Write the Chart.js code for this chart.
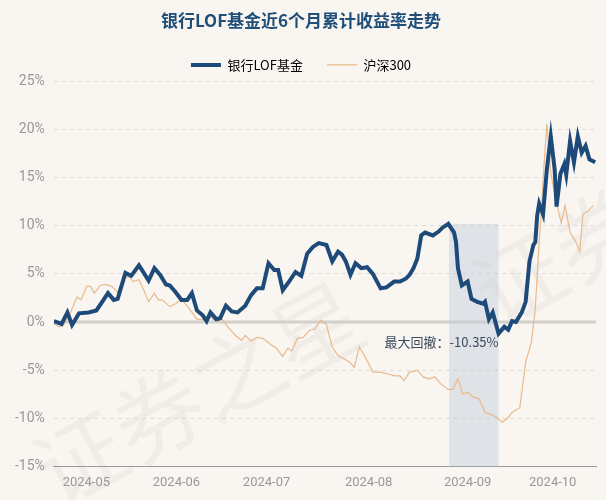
<!DOCTYPE html>
<html><head><meta charset="utf-8">
<script src="https://cdn.jsdelivr.net/npm/chart.js@4"></script>
<style>html,body{margin:0;padding:0;background:#f9f6f2}</style>
</head><body><canvas id="c" width="606" height="500"></canvas>
<script>
const title = '银行LOF基金近6个月累计收益率走势';
const seriesNames = ['银行LOF基金', '沪深300'];
const monthTickPos = [224, 457, 690, 954, 1210, 1430];
const monthLabels = ['2024-05', '2024-06', '2024-07', '2024-08', '2024-09', '2024-10'];
const yTicks = [25, 20, 15, 10, 5, 0, -5, -10, -15];
const fundX = [140,160,175,187,205,230,250,265,280,295,305,325,340,360,385,400,415,430,440,455,470,485,497,510,525,535,545,560,570,585,600,615,635,650,665,680,695,710,720,732,750,765,780,795,810,825,845,860,875,885,895,907,920,935,950,965,985,1000,1020,1035,1050,1060,1070,1080,1090,1100,1120,1135,1145,1160,1175,1180,1185,1195,1210,1220,1235,1250,1255,1265,1275,1290,1305,1315,1325,1335,1350,1360,1370,1380,1385,1390,1395,1405,1415,1425,1435,1440,1450,1460,1465,1475,1485,1495,1505,1515,1525,1540];
const fundY = [0.1,-0.2,1.0,-0.3,0.9,1.0,1.2,2.1,3.0,2.3,2.4,5.1,4.8,5.9,4.3,5.6,4.9,3.9,3.8,3.1,2.3,2.3,3.0,1.2,0.7,0.1,1.0,0.3,0.4,1.7,1.1,1.0,1.7,2.8,3.5,3.5,6.1,5.4,5.4,3.3,4.3,5.2,4.8,7.1,7.8,8.2,8.0,6.3,7.3,7.0,6.3,4.9,6.1,5.6,5.7,5.0,3.5,3.6,4.2,4.2,4.5,4.9,5.6,6.6,9.0,9.3,9.0,9.4,9.8,10.2,9.3,8.3,5.6,3.8,4.2,2.4,2.1,1.9,2.1,0.3,1.0,-1.2,-0.5,-0.8,0.1,0.0,1.0,2.1,6.3,8.0,8.3,11.1,12.3,11.2,15.9,19.3,15.9,12.0,15.4,16.4,15.3,18.8,16.6,19.3,17.6,18.3,16.9,16.6];
const hsX = [140,155,165,180,200,210,225,235,245,260,275,290,305,320,335,345,360,375,385,400,410,420,440,455,470,490,510,530,545,560,575,590,610,625,635,650,665,680,700,715,732,745,755,770,785,800,815,830,845,860,875,890,905,917,930,945,965,985,1005,1020,1035,1045,1060,1080,1095,1110,1125,1140,1160,1172,1185,1197,1210,1225,1240,1255,1270,1285,1300,1315,1325,1345,1360,1375,1385,1395,1400,1408,1415,1425,1440,1452,1462,1475,1490,1500,1508,1520,1535];
const hsY = [-0.2,-0.5,-0.3,0.7,2.6,2.3,3.7,3.7,3.0,3.8,3.9,3.7,3.1,4.5,4.7,4.2,4.4,3.1,2.1,3.0,2.3,2.3,1.6,1.9,2.4,1.4,0.3,0.2,0.5,0.1,0.3,-0.5,-1.4,-1.9,-1.4,-2.0,-1.6,-1.7,-2.3,-2.7,-3.6,-2.7,-3.0,-1.7,-1.6,-0.9,-0.7,0.2,-0.3,-2.6,-3.5,-3.8,-4.2,-4.7,-2.6,-3.6,-5.2,-5.2,-5.4,-5.6,-5.6,-6.1,-5.2,-5.0,-5.7,-5.9,-5.7,-6.4,-7.0,-7.0,-5.9,-7.5,-7.3,-7.8,-8.0,-9.4,-9.6,-9.9,-10.4,-9.9,-9.4,-8.9,-4.2,-2.1,1.4,8.3,11.1,16.6,20.6,15.5,12.3,10.3,12.1,9.3,8.3,7.3,11.2,11.5,12.1];
const drawdownText = '最大回撤：-10.35%';
const ddStartX = 1162, ddEndX = 1290, ddTop = 10.2;

const toPts = (xs, ys) => xs.map((x, i) => ({x, y: ys[i]}));

const bgPlugin = {
  id: 'bg',
  beforeDraw(ch) {
    const c = ch.ctx; c.save();
    c.fillStyle = '#f9f6f2'; c.fillRect(0, 0, ch.width, ch.height);
    c.fillStyle = 'rgba(0,0,0,0.035)';
    c.font = '90px "Noto Sans CJK SC"';
    c.translate(40, 480); c.rotate(-0.5);
    c.fillText('证券之星', 0, 0);
    c.restore(); c.save();
    c.fillStyle = 'rgba(0,0,0,0.035)';
    c.font = '90px "Noto Sans CJK SC"';
    c.translate(480, 300); c.rotate(-0.5);
    c.fillText('证券之星', 0, 0);
    c.restore();
  },
  beforeDatasetsDraw(ch) {
    const c = ch.ctx, xs = ch.scales.x, ys = ch.scales.y;
    const x1 = xs.getPixelForValue(ddStartX), x2 = xs.getPixelForValue(ddEndX);
    const yt = ys.getPixelForValue(ddTop), yb = ys.getPixelForValue(-15);
    const y0 = ys.getPixelForValue(0);
    c.save();
    c.strokeStyle = '#d3d0cc'; c.lineWidth = 3;
    c.beginPath(); c.moveTo(ch.chartArea.left, y0); c.lineTo(ch.chartArea.right, y0); c.stroke();
    c.fillStyle = 'rgba(190,204,218,0.45)';
    c.fillRect(x1, yt, x2 - x1, yb - yt);
    c.fillStyle = '#3b4b5c';
    c.font = '13px "Noto Sans CJK SC"';
    c.textAlign = 'right'; c.textBaseline = 'middle';
    c.fillText(drawdownText, x2, ys.getPixelForValue(-2.1));
    c.restore();
  }
};

new Chart(document.getElementById('c'), {
  type: 'line',
  data: { datasets: [
    { label: seriesNames[0], data: toPts(fundX, fundY), borderColor: '#1d4a78', backgroundColor: '#1d4a78', borderWidth: 4, pointRadius: 0, tension: 0 },
    { label: seriesNames[1], data: toPts(hsX, hsY), borderColor: '#e9b98a', backgroundColor: '#e9b98a', borderWidth: 1.2, pointRadius: 0, tension: 0 }
  ]},
  options: {
    responsive: false, animation: false, devicePixelRatio: 1,
    layout: { padding: { left: 6, right: 10, top: 0, bottom: 6 } },
    plugins: {
      title: { display: true, text: title, color: '#1f4e79', font: { size: 17, weight: 'bold', family: '"Noto Sans CJK SC"' }, padding: { top: 10, bottom: 4 } },
      legend: { labels: { color: '#333', font: { size: 13, family: '"Noto Sans CJK SC"' }, boxWidth: 30, boxHeight: 0, padding: 24,
        generateLabels: ch => ch.data.datasets.map((d, i) => ({ text: d.label, strokeStyle: d.borderColor, fillStyle: d.borderColor, lineWidth: i ? 1.2 : 4, datasetIndex: i })) } },
      tooltip: { enabled: false }
    },
    scales: {
      x: { type: 'linear', min: 140, max: 1542,
        afterBuildTicks: s => { s.ticks = monthTickPos.map(v => ({ value: v })); },
        ticks: { autoSkip: false, maxRotation: 0, color: '#999', font: { size: 13, family: 'Roboto' }, callback: (v) => monthLabels[monthTickPos.indexOf(v)] },
        grid: { display: false, drawTicks: true, tickLength: 6, tickColor: '#999' },
        border: { color: '#999' } },
      y: { min: -15, max: 25,
        afterBuildTicks: s => { s.ticks = yTicks.map(v => ({ value: v })); },
        ticks: { color: '#999', font: { size: 14, family: 'Roboto' }, callback: v => v + '%', padding: 9 },
        grid: { color: c => c.tick && c.tick.value === 0 ? 'rgba(0,0,0,0)' : '#dedad5', lineWidth: 1, drawTicks: false },
        border: { display: false, dash: [4, 4] } }
    }
  },
  plugins: [bgPlugin]
});
</script>
</body></html>
